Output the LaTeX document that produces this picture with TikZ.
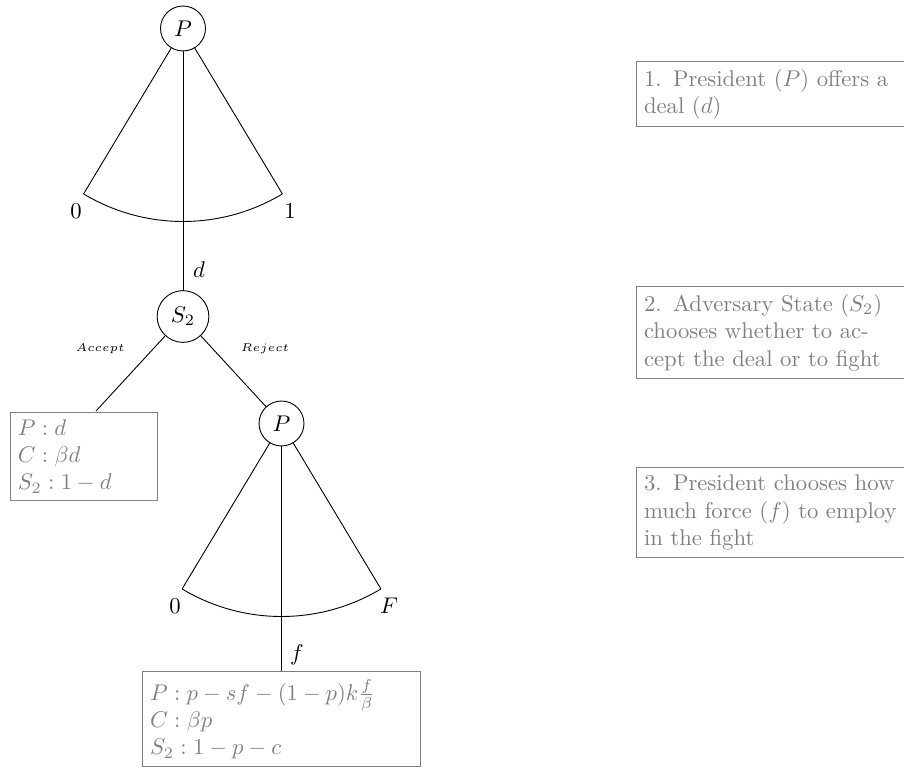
\documentclass[tikz,border=0pt]{standalone}
\usetikzlibrary{calc}
\begin{document}
\begin{tikzpicture}[x=0.4405pt,y=0.4405pt,
  player/.style={draw,circle,inner sep=0.333em},
  payoff/.style={draw=gray,text=gray,align=left,inner sep=0.333em},
  stagebox/.style={draw=gray,text=gray,text width=4cm,align=left,anchor=north west},
  lbl/.style={inner sep=0pt}]
\useasboundingbox (0,0) rectangle (904,-769);
\clip (0,0) rectangle (904,-769);
% top decision node
\node[player] (p1) at (183,-28.5) {$P$};
\coordinate (p1l) at ($(p1.center)+(-121:193)$);
\coordinate (p1r) at ($(p1.center)+(-59:193)$);
\draw (p1) -- (p1l);
\draw (p1) -- (p1r);
\draw (p1l) arc[start angle=-121,end angle=-59,radius=193];
\node[lbl] (z1) at (76,-211) {$0$};
\node[lbl] (o1) at (290,-211) {$1$};
% adversary
\node[player] (s2) at (183,-316.5) {$S_2$};
\draw (p1) -- (s2);
\node[lbl] (d) at (199,-270) {$d$};
% accept payoff
\node[payoff,text width=2.05cm] (b1) at (84,-456.5) {$P:d$\\$C:\beta d$\\$S_2:1-d$};
\coordinate (b1top) at (96,-411);
\draw (s2) -- (b1top);
\node[lbl] (acc) at (100,-349) {\tiny $Accept$};
% second P
\node[player] (p2) at (281.5,-423.5) {$P$};
\draw (s2) -- (p2);
\node[lbl] (rej) at (265,-349) {\tiny $Reject$};
\coordinate (p2l) at ($(p2.center)+(-121:193)$);
\coordinate (p2r) at ($(p2.center)+(-59:193)$);
\draw (p2) -- (p2l);
\draw (p2) -- (p2r);
\draw (p2l) arc[start angle=-121,end angle=-59,radius=193];
\node[lbl] (z2) at (175,-606) {$0$};
\node[lbl] (ff) at (389,-606) {$F$};
\node[lbl] (f) at (297,-655) {$f$};
\node[payoff,text width=4.07cm,anchor=north] (b2) at (281.5,-671) {$P:p-sf-(1-p)k\frac{f}{\beta}$\\$C:\beta p$\\$S_2:1-p-c$};
\draw (p2) -- (b2);
% stage descriptions
\node[stagebox] (r1) at (636,-61) {1. President ($P$) offers a deal ($d$)};
\node[stagebox] (r2) at (636,-286.5) {2. Adversary State ($S_2$) chooses whether to accept the deal or to fight};
\node[stagebox] (r3) at (636,-467) {3. President chooses how much force ($f$) to employ in the fight};
\end{tikzpicture}
\end{document}
